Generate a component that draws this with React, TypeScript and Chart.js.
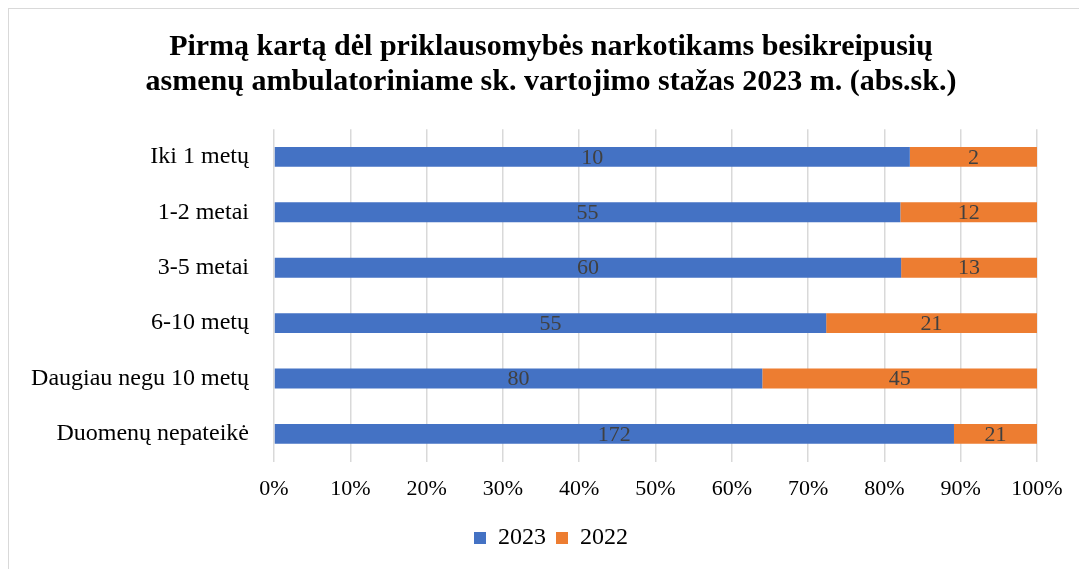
import React, { useEffect, useRef } from "react";
import { Chart, registerables } from "chart.js";

Chart.register(...registerables);

const categories = [
  "Iki 1 metų",
  "1-2 metai",
  "3-5 metai",
  "6-10 metų",
  "Daugiau negu 10 metų",
  "Duomenų nepateikė",
];
const values2023 = [10, 55, 60, 55, 80, 172];
const values2022 = [2, 12, 13, 21, 45, 21];
const xTicks = [0, 10, 20, 30, 40, 50, 60, 70, 80, 90, 100];
const titleLines = [
  "Pirmą kartą dėl priklausomybės narkotikams besikreipusių",
  "asmenų ambulatoriniame sk. vartojimo stažas 2023 m. (abs.sk.)",
];

const FONT = "'Liberation Serif', 'Times New Roman', serif";

const totals = values2023.map((v, i) => v + values2022[i]);
const pct2023 = values2023.map((v, i) => (v / totals[i]) * 100);
const pct2022 = values2022.map((v, i) => (v / totals[i]) * 100);

const labelPlugin = {
  id: "segLabels",
  afterDatasetsDraw(chart: any) {
    const ctx = chart.ctx;
    ctx.save();
    ctx.font = `22px ${FONT}`;
    ctx.fillStyle = "#404040";
    ctx.textAlign = "center";
    ctx.textBaseline = "middle";
    chart.data.datasets.forEach((ds: any, di: number) => {
      const meta = chart.getDatasetMeta(di);
      meta.data.forEach((el: any, i: number) => {
        const cx = (el.x + el.base) / 2;
        ctx.fillText(String(ds.rawValues[i]), cx, el.y + 1);
      });
    });
    ctx.restore();
  },
};

export default function App() {
  const ref = useRef<HTMLCanvasElement | null>(null);
  useEffect(() => {
    if (!ref.current) return;
    const chart = new Chart(ref.current, {
      type: "bar",
      data: {
        labels: categories,
        datasets: [
          {
            label: "2023",
            data: pct2023,
            rawValues: values2023,
            backgroundColor: "#4472C4",
            borderWidth: 0,
            barPercentage: 0.36,
            categoryPercentage: 1,
          } as any,
          {
            label: "2022",
            data: pct2022,
            rawValues: values2022,
            backgroundColor: "#ED7D31",
            borderWidth: 0,
            barPercentage: 0.36,
            categoryPercentage: 1,
          } as any,
        ],
      },
      options: {
        indexAxis: "y",
        animation: false,
        responsive: true,
        maintainAspectRatio: false,
        layout: { padding: { left: 14, right: 0, top: 0, bottom: 9 } },
        plugins: {
          title: {
            display: true,
            text: titleLines,
            color: "#000",
            font: { family: FONT, size: 30, weight: "bold", lineHeight: 1.17 },
            padding: { top: 21, bottom: 29 },
          },
          legend: {
            position: "bottom",
            labels: {
              boxWidth: 12,
              boxHeight: 12,
              color: "#000",
              font: { family: FONT, size: 24 },
              padding: 10,
            },
          },
          tooltip: { enabled: false },
        },
        scales: {
          x: {
            stacked: true,
            min: 0,
            max: 100,
            afterBuildTicks(scale: any) {
              scale.ticks = xTicks.map((v) => ({ value: v }));
            },
            afterFit(scale: any) {
              scale.paddingRight = 42;
            },
            ticks: {
              callback: (v: any) => v + "%",
              color: "#000",
              font: { family: FONT, size: 22 },
              padding: 14,
              maxRotation: 0,
            },
            grid: { color: "#d9d9d9", lineWidth: 1.5, drawTicks: false },
            border: { display: false },
          },
          y: {
            stacked: true,
            afterFit(scale: any) {
              scale.width = 251;
            },
            ticks: {
              color: "#000",
              font: { family: FONT, size: 24 },
              padding: 17,
            },
            grid: { display: false },
            border: { display: false },
          },
        },
      } as any,
      plugins: [labelPlugin],
    });
    return () => chart.destroy();
  }, []);

  return (
    <div
      style={{
        position: "fixed",
        left: 8,
        top: 8,
        width: 1071,
        height: 561,
        boxSizing: "border-box",
        borderLeft: "1px solid #d9d9d9",
        borderTop: "1px solid #d9d9d9",
        background: "#fff",
      }}
    >
      <div style={{ position: "relative", width: "100%", height: "100%" }}>
        <canvas ref={ref} />
      </div>
    </div>
  );
}
